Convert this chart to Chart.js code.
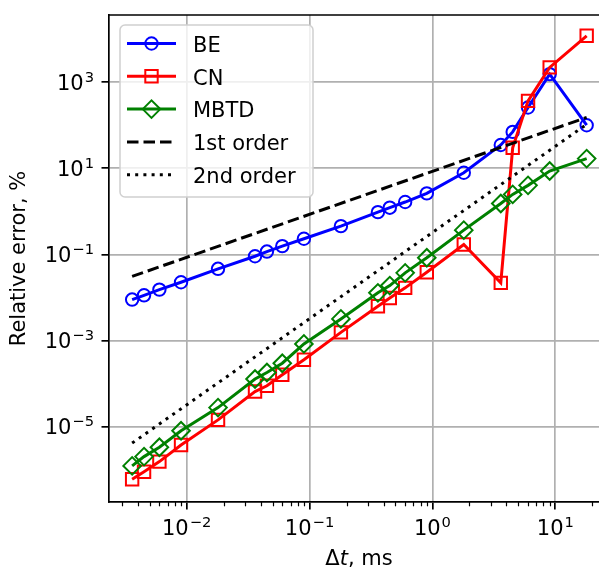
<!DOCTYPE html>
<html>
<head>
<meta charset="utf-8">
<script src="https://cdn.jsdelivr.net/npm/chart.js@4.4.1/dist/chart.umd.min.js"></script>
<style>
  html, body { margin: 0; padding: 0; background: #fff; overflow: hidden; width: 599px; height: 572px; }
  #wrap { width: 620px; height: 572px; }
</style>
</head>
<body>
<div id="wrap"><canvas id="chart" width="620" height="572"></canvas></div>
<script>
// Time steps (ms) and relative errors (%)
const dtValues = [0.0036, 0.0045, 0.006, 0.009, 0.018, 0.036, 0.045, 0.06, 0.09, 0.18,
                  0.36, 0.45, 0.6, 0.9, 1.8, 3.6, 4.5, 6, 9, 18];
const beError = [0.009, 0.0113, 0.0153, 0.0227, 0.0465, 0.091, 0.117, 0.156, 0.232, 0.455,
                 0.96, 1.22, 1.65, 2.62, 7.9, 34.8, 70, 258, 1535, 100];
const cnError = [6.1e-7, 9.1e-7, 1.56e-6, 3.8e-6, 1.45e-5, 6.6e-5, 9.0e-5, 1.62e-4, 3.6e-4, 1.56e-3,
                 6.3e-3, 9.8e-3, 0.0168, 0.0388, 0.171, 0.022, 30, 367, 2200, 11900];
const mbtdError = [1.24e-6, 2.04e-6, 3.37e-6, 8.1e-6, 2.8e-5, 1.29e-4, 1.83e-4, 3.0e-4, 8.4e-4, 3.2e-3,
                   0.0129, 0.019, 0.0375, 0.084, 0.367, 1.53, 2.48, 4.02, 8.65, 16.8];

// Reference slopes
const firstOrderX = [0.0036, 18];
const firstOrderY = [0.031, 152];
const secondOrderX = [0.0036, 18];
const secondOrderY = [4.2e-6, 105];

// Axis decades
const xTickExps = [-2, -1, 0, 1];
const yTickExps = [-5, -3, -1, 1, 3];

const FONT = "'DejaVu Sans', sans-serif";
const FS = 21;

function toPoints(xs, ys) {
  return xs.map((x, i) => ({ x: x, y: ys[i] }));
}

const LW = 3;
const MARK = 6.2;

const datasets = [
  {
    label: 'BE', data: toPoints(dtValues, beError), order: 5,
    borderColor: '#0000ff', borderWidth: LW,
    pointStyle: 'circle', pointRadius: MARK, pointBorderWidth: 2,
    pointBorderColor: '#0000ff', pointBackgroundColor: 'rgba(0,0,0,0)',
  },
  {
    label: 'CN', data: toPoints(dtValues, cnError), order: 4,
    borderColor: '#ff0000', borderWidth: LW,
    pointStyle: 'rect', pointRadius: MARK / Math.SQRT1_2, pointBorderWidth: 2,
    pointBorderColor: '#ff0000', pointBackgroundColor: 'rgba(0,0,0,0)',
  },
  {
    label: 'MBTD', data: toPoints(dtValues, mbtdError), order: 3,
    borderColor: '#008000', borderWidth: LW,
    pointStyle: 'rectRot', pointRadius: MARK / Math.SQRT1_2, pointBorderWidth: 2,
    pointBorderColor: '#008000', pointBackgroundColor: 'rgba(0,0,0,0)',
  },
  {
    label: '1st order', data: toPoints(firstOrderX, firstOrderY), order: 2,
    borderColor: '#000', borderWidth: LW, borderDash: [11.5, 5], pointRadius: 0,
  },
  {
    label: '2nd order', data: toPoints(secondOrderX, secondOrderY), order: 1,
    borderColor: '#000', borderWidth: LW, borderDash: [3, 5.2], pointRadius: 0,
  },
];

// draw "10" with a raised exponent, like matplotlib mathtext
function measurePow(ctx, exp) {
  const expText = String(exp).replace('-', '\u2212');
  ctx.font = FS + 'px ' + FONT;
  const baseW = ctx.measureText('10').width;
  ctx.font = (FS * 0.7) + 'px ' + FONT;
  const expW = ctx.measureText(expText).width;
  return { expText, baseW, expW, total: baseW + expW + 1 };
}

function drawPow(ctx, exp, left, baseline) {
  const m = measurePow(ctx, exp);
  ctx.textAlign = 'left';
  ctx.textBaseline = 'alphabetic';
  ctx.font = FS + 'px ' + FONT;
  ctx.fillText('10', left, baseline);
  ctx.font = (FS * 0.7) + 'px ' + FONT;
  ctx.fillText(m.expText, left + m.baseW + 1, baseline - 8);
}

// tick labels, minor ticks on x, spines, x title and legend
const decorPlugin = {
  id: 'decor',
  afterDraw(chart) {
    const ctx = chart.ctx;
    const area = chart.chartArea;
    const xs = chart.scales.x;
    const ys = chart.scales.y;

    ctx.save();
    ctx.fillStyle = '#000';
    xs.ticks.forEach(t => {
      const exp = Math.round(Math.log10(t.value));
      const m = measurePow(ctx, exp);
      drawPow(ctx, exp, xs.getPixelForValue(t.value) - m.total / 2, area.bottom + 32.5);
    });
    ys.ticks.forEach(t => {
      const exp = Math.round(Math.log10(t.value));
      const m = measurePow(ctx, exp);
      drawPow(ctx, exp, area.left - 15 - m.total, ys.getPixelForValue(t.value) + 7.5);
    });

    ctx.strokeStyle = '#000';
    ctx.lineWidth = 1.2;
    for (let e = -3; e <= 1; e++) {
      for (let m = 2; m <= 9; m++) {
        const v = m * Math.pow(10, e);
        if (v < xs.min || v > xs.max) continue;
        const px = Math.round(xs.getPixelForValue(v)) + 0.5;
        ctx.beginPath();
        ctx.moveTo(px, area.bottom);
        ctx.lineTo(px, area.bottom + 4.3);
        ctx.stroke();
      }
    }

    // top and right spines
    ctx.lineWidth = 1.7;
    ctx.beginPath();
    ctx.moveTo(area.left, area.top);
    ctx.lineTo(area.right, area.top);
    ctx.lineTo(area.right, area.bottom);
    ctx.stroke();

    // x axis title: Δt, ms (t in italics)
    const cx = (area.left + area.right) / 2;
    const parts = [
      { t: '\u0394', f: FS + 'px ' + FONT },
      { t: 't', f: 'italic ' + FS + 'px ' + FONT },
      { t: ', ms', f: FS + 'px ' + FONT },
    ];
    let total = 0;
    parts.forEach(p => { ctx.font = p.f; p.w = ctx.measureText(p.t).width; total += p.w; });
    let x = cx - total / 2;
    ctx.textBaseline = 'alphabetic';
    ctx.textAlign = 'left';
    parts.forEach(p => { ctx.font = p.f; ctx.fillText(p.t, x, 565); x += p.w; });

    // legend
    const bx = 120, by = 25, bw = 193, bh = 172, r = 5;
    ctx.beginPath();
    ctx.moveTo(bx + r, by);
    ctx.arcTo(bx + bw, by, bx + bw, by + bh, r);
    ctx.arcTo(bx + bw, by + bh, bx, by + bh, r);
    ctx.arcTo(bx, by + bh, bx, by, r);
    ctx.arcTo(bx, by, bx + bw, by, r);
    ctx.closePath();
    ctx.fillStyle = 'rgba(255,255,255,0.8)';
    ctx.fill();
    ctx.strokeStyle = '#d0d0d0';
    ctx.lineWidth = 1.5;
    ctx.stroke();

    datasets.forEach((ds, i) => {
      const y = 43.5 + i * 32.8;
      ctx.save();
      ctx.strokeStyle = ds.borderColor;
      ctx.lineWidth = LW;
      ctx.setLineDash(ds.borderDash || []);
      ctx.beginPath();
      ctx.moveTo(127, y);
      ctx.lineTo(176, y);
      ctx.stroke();
      ctx.setLineDash([]);
      if (ds.pointRadius > 0) {
        ctx.lineWidth = ds.pointBorderWidth;
        ctx.strokeStyle = ds.pointBorderColor;
        ctx.beginPath();
        const mx = 151.5;
        if (ds.pointStyle === 'circle') {
          ctx.arc(mx, y, MARK, 0, Math.PI * 2);
        } else if (ds.pointStyle === 'rect') {
          ctx.rect(mx - MARK, y - MARK, 2 * MARK, 2 * MARK);
        } else {
          const d = MARK / Math.SQRT1_2;
          ctx.moveTo(mx - d, y); ctx.lineTo(mx, y - d);
          ctx.lineTo(mx + d, y); ctx.lineTo(mx, y + d);
          ctx.closePath();
        }
        ctx.stroke();
      }
      ctx.restore();
      ctx.fillStyle = '#000';
      ctx.font = FS + 'px ' + FONT;
      ctx.textBaseline = 'alphabetic';
      ctx.textAlign = 'left';
      ctx.fillText(ds.label, 193, y + 8.2);
    });
    ctx.restore();
  }
};

new Chart(document.getElementById('chart'), {
  type: 'line',
  data: { datasets: datasets },
  plugins: [decorPlugin],
  options: {
    responsive: false,
    animation: false,
    events: [],
    layout: { padding: { left: 0, top: 15, right: 11, bottom: 0 } },
    plugins: {
      legend: { display: false },
      tooltip: { enabled: false },
    },
    elements: { line: { tension: 0 } },
    scales: {
      x: {
        type: 'logarithmic',
        min: Math.pow(10, -2.632),
        max: Math.pow(10, 1.437),
        afterBuildTicks(scale) {
          scale.ticks = xTickExps.map(e => ({ value: Math.pow(10, e) }));
        },
        afterFit(scale) { scale.height = 70; },
        ticks: { display: false },
        grid: { color: '#b0b0b0', lineWidth: 1.7, tickColor: '#000', tickLength: 7.5, tickWidth: 1.7 },
        border: { display: true, color: '#000', width: 1.7 },
      },
      y: {
        type: 'logarithmic',
        min: Math.pow(10, -6.744),
        max: Math.pow(10, 4.558),
        afterBuildTicks(scale) {
          scale.ticks = yTickExps.map(e => ({ value: Math.pow(10, e) }));
        },
        afterFit(scale) { scale.width = 109; },
        ticks: { display: false },
        grid: { color: '#b0b0b0', lineWidth: 1.7, tickColor: '#000', tickLength: 7.5, tickWidth: 1.7 },
        border: { display: true, color: '#000', width: 1.7 },
        title: {
          display: true, text: 'Relative error, %', color: '#000',
          font: { family: FONT, size: FS }, padding: { top: 7, bottom: 0 },
        },
      },
    },
  },
});
</script>
</body>
</html>
